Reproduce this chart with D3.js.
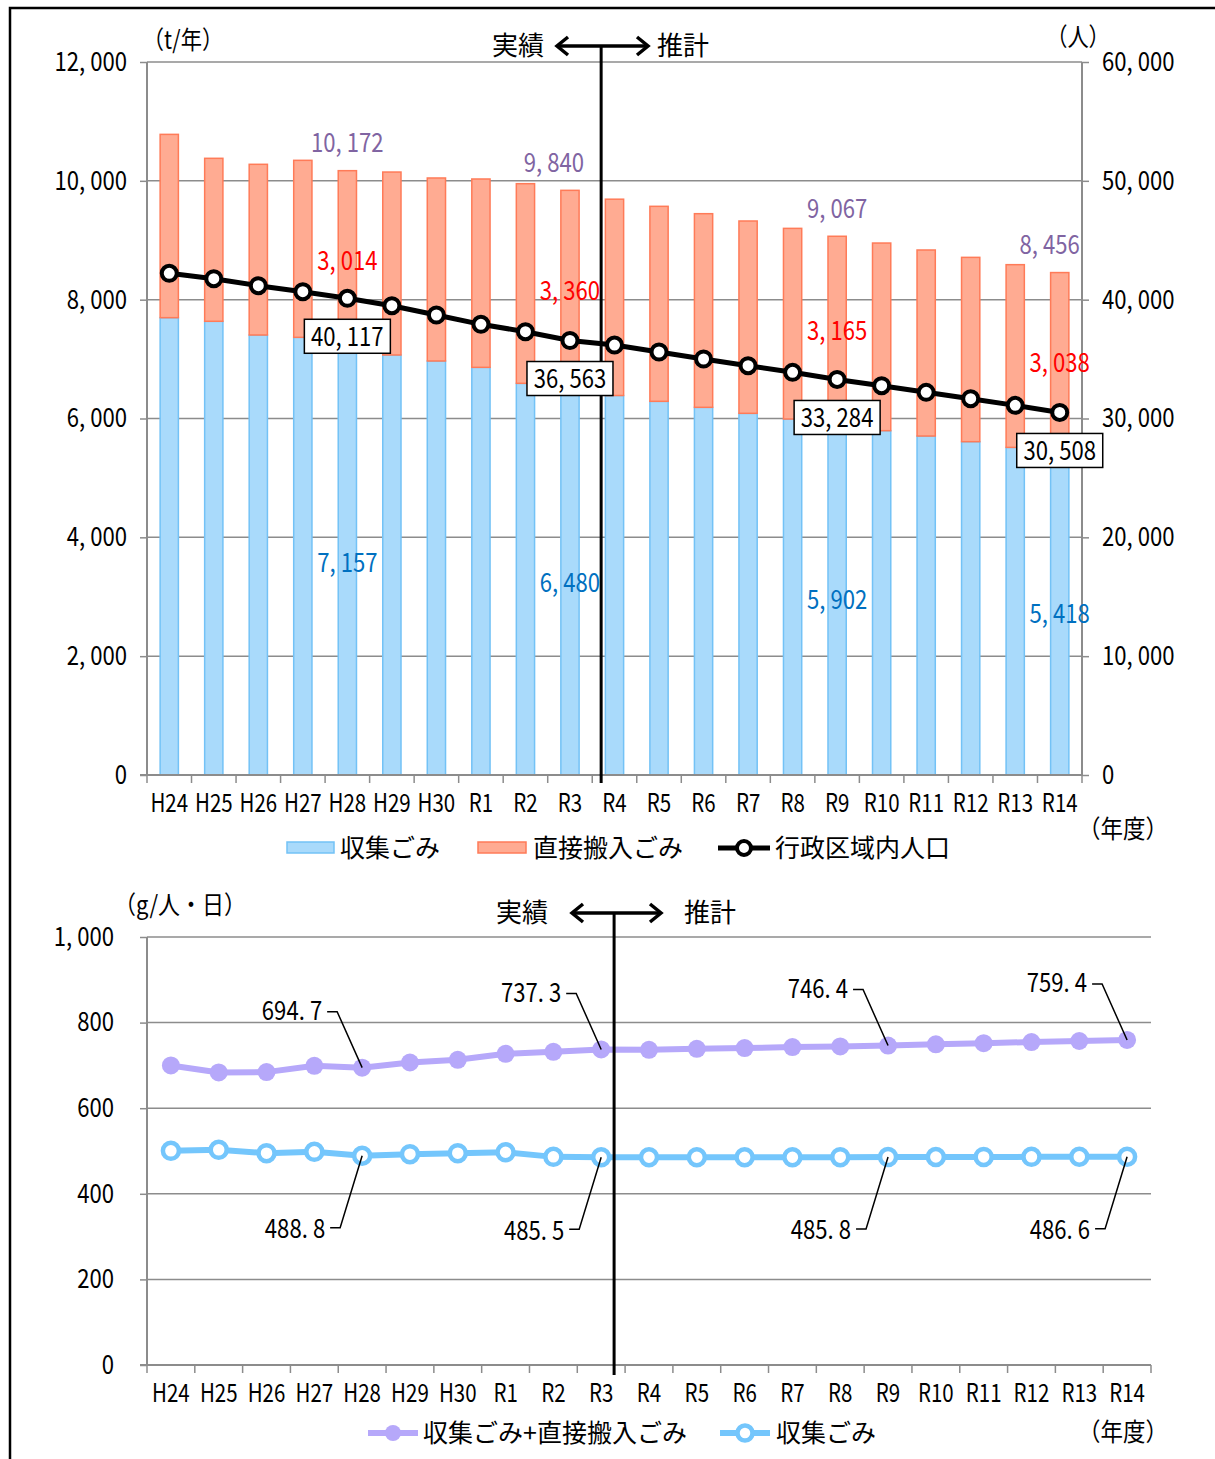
<!DOCTYPE html>
<html>
<head>
<meta charset="utf-8">
<script src="https://cdn.jsdelivr.net/npm/d3@7"></script>
<style>
  body { margin: 0; background: #fff; }
  text { font-family: "Noto Sans CJK JP", "Noto Sans", sans-serif; }
</style>
</head>
<body>
<div class="forSvg"></div>
<script>
// categories (fiscal years)
const years = ["H24","H25","H26","H27","H28","H29","H30","R1","R2","R3","R4",
               "R5","R6","R7","R8","R9","R10","R11","R12","R13","R14"];

// tonnage per year (t/年)
const collected = [7697, 7636, 7405, 7366, 7157, 7069, 6968, 6861, 6592, 6480, 6387,
                   6289, 6188, 6087, 5991, 5902, 5795, 5705, 5610, 5514, 5418];
const direct = [3085, 2743, 2873, 2979, 3014, 3079, 3080, 3170, 3360, 3360, 3304,
                3282, 3259, 3237, 3209, 3165, 3158, 3131, 3102, 3075, 3038];
const totalT = [10782, 10379, 10278, 10345, 10172, 10148, 10048, 10031, 9952, 9840, 9691,
                9571, 9447, 9324, 9200, 9067, 8953, 8836, 8712, 8589, 8456];

// population (人)
const population = [42217, 41767, 41178, 40673, 40117, 39494, 38710, 37925, 37306, 36563, 36180,
                    35597, 35007, 34445, 33884, 33284, 32762, 32201, 31667, 31106, 30508];

// per capita per day (g/人・日)
const perCapTotal = [699.8, 683.5, 684.3, 699.1, 694.7, 706.8, 713.1, 727.1, 731.8, 737.3, 736.5,
                     738.8, 740.4, 742.7, 744.3, 746.4, 749.3, 751.9, 754.6, 757.0, 759.4];
const perCapCollected = [500.3, 502.7, 494.9, 498.0, 488.8, 492.6, 494.9, 497.2, 486.3, 485.5, 485.4,
                         485.3, 485.4, 485.5, 485.6, 485.8, 486.0, 486.2, 486.3, 486.5, 486.6];

// years that get value labels
const labeledYears = ["H28", "R3", "R9", "R14"];

// tick values
const leftTicksTop = [0, 2000, 4000, 6000, 8000, 10000, 12000];
const rightTicksTop = [0, 10000, 20000, 30000, 40000, 50000, 60000];
const ticksBottom = [0, 200, 400, 600, 800, 1000];

const svg_w = 1215;
const svg_h = 1459;
const SX = 0.85;   // narrow the latin glyphs a bit
const fmt = d3.format(",");
const fmt1 = d3.format(".1f");
const gridCol = "#8c8c8c";

const svg = d3.select(".forSvg").append("svg")
    .attr("width", svg_w).attr("height", svg_h);

svg.append("rect").attr("width", svg_w).attr("height", svg_h).attr("fill", "#fff");
// outer frame
svg.append("rect").attr("x", 10).attr("y", 8).attr("width", 1300).attr("height", 1600)
    .attr("fill", "none").attr("stroke", "#000").attr("stroke-width", 2.5);

// put a little gap after "," and "." like the japanese font does
function spaced(sel, s) {
    sel.text(null);
    s.split(/(?<=[,.])/).forEach((p, k) => {
        sel.append("tspan").attr("dx", k ? 6 : null).text(p);
    });
    return sel;
}

// text helper
function txt(x, y, s, o = {}) {
    const sx = o.sx == null ? SX : o.sx;
    const t = svg.append("text")
        .attr("transform", `translate(${x},${y}) scale(${sx},1)`)
        .attr("text-anchor", o.anchor || "middle")
        .attr("dy", "0.36em")
        .attr("font-size", o.size || 24)
        .attr("fill", o.fill || "#000");
    if (o.num) spaced(t, s); else t.text(s);
    return t;
}

function styleAxis(g, dx) {
    g.select(".domain").remove();
    g.selectAll("line").attr("stroke", gridCol).attr("stroke-width", 1.5);
    g.selectAll("text")
        .attr("x", null)
        .attr("transform", `translate(${dx},0) scale(${SX},1)`)
        .attr("font-size", 26)
        .attr("fill", "#000")
        .style("font-family", '"Noto Sans CJK JP", sans-serif')
        .each(function () { spaced(d3.select(this), this.textContent); });
}

function arrowMarker(x0, x1, y, xv, yBottom) {
    const g = svg.append("g").attr("stroke", "#000").attr("fill", "none")
        .attr("stroke-width", 3.5);
    g.append("line").attr("x1", x0 + 2).attr("x2", x1 - 2).attr("y1", y).attr("y2", y);
    g.append("polyline").attr("points", `${x0 + 13},${y - 9} ${x0 + 2},${y} ${x0 + 13},${y + 9}`);
    g.append("polyline").attr("points", `${x1 - 13},${y - 9} ${x1 - 2},${y} ${x1 - 13},${y + 9}`);
    g.append("line").attr("x1", xv).attr("x2", xv).attr("y1", y).attr("y2", yBottom)
        .attr("stroke-width", 3);
}

// ================= TOP CHART =================
const T = { left: 147, right: 1082, top: 62, bottom: 775 };

const xBand = d3.scaleBand().domain(years).range([T.left, T.right]);
const xC = d => xBand(d) + xBand.bandwidth() / 2;
const barW = xBand.bandwidth() * 0.41;

const yT = d3.scaleLinear().domain([0, 12000]).range([T.bottom, T.top]);
const yP = d3.scaleLinear().domain([0, 60000]).range([T.bottom, T.top]);

// gridlines
svg.append("g").selectAll("line").data(leftTicksTop).join("line")
    .attr("x1", T.left).attr("x2", T.right)
    .attr("y1", d => yT(d)).attr("y2", d => yT(d))
    .attr("stroke", gridCol).attr("stroke-width", 1.5);

// axes
svg.append("g").attr("transform", `translate(${T.left},0)`)
    .call(d3.axisLeft(yT).tickValues(leftTicksTop).tickSize(7).tickFormat(fmt))
    .call(g => styleAxis(g, -20));
svg.append("g").attr("transform", `translate(${T.right},0)`)
    .call(d3.axisRight(yP).tickValues(rightTicksTop).tickSize(7).tickFormat(fmt))
    .call(g => styleAxis(g, 20));
svg.append("line").attr("x1", T.left).attr("x2", T.left).attr("y1", T.top).attr("y2", T.bottom)
    .attr("stroke", gridCol).attr("stroke-width", 2);
svg.append("line").attr("x1", T.right).attr("x2", T.right).attr("y1", T.top).attr("y2", T.bottom)
    .attr("stroke", gridCol).attr("stroke-width", 2);

// stacked bars
const stackData = years.map((y, i) => ({ year: y, collected: collected[i], direct: direct[i] }));
const series = d3.stack().keys(["collected", "direct"])(stackData);
const barFill = { collected: "#a9dafb", direct: "#ffab92" };
const barStroke = { collected: "#73c2f6", direct: "#ff7b58" };

svg.append("g").selectAll("g").data(series).join("g")
    .attr("fill", s => barFill[s.key]).attr("stroke", s => barStroke[s.key])
    .attr("stroke-width", 1.5)
    .selectAll("rect").data(s => s).join("rect")
    .attr("x", d => xC(d.data.year) - barW / 2)
    .attr("width", barW)
    .attr("y", d => yT(d[1]))
    .attr("height", d => yT(d[0]) - yT(d[1]));

// x axis line & boundary ticks
svg.append("line").attr("x1", T.left - 7).attr("x2", T.right).attr("y1", T.bottom).attr("y2", T.bottom)
    .attr("stroke", gridCol).attr("stroke-width", 2);
svg.append("g").selectAll("line").data(years.concat(["end"])).join("line")
    .attr("x1", d => d === "end" ? T.right : xBand(d))
    .attr("x2", d => d === "end" ? T.right : xBand(d))
    .attr("y1", T.bottom).attr("y2", T.bottom + 8)
    .attr("stroke", gridCol).attr("stroke-width", 1.5);
years.forEach(y => txt(xC(y), 803, y, { size: 25, sx: 0.82 }));

// population line
const popLine = d3.line().x((d, i) => xC(years[i])).y(d => yP(d));
svg.append("path").datum(population).attr("d", popLine)
    .attr("fill", "none").attr("stroke", "#000").attr("stroke-width", 5);
svg.append("g").selectAll("circle").data(population).join("circle")
    .attr("cx", (d, i) => xC(years[i])).attr("cy", d => yP(d)).attr("r", 7.5)
    .attr("fill", "#fff").attr("stroke", "#000").attr("stroke-width", 4);

// vertical separator with arrow
arrowMarker(555, 650, 46, xBand("R4") + xBand.step() * 0.2, T.bottom + 8);
txt(518, 46, "実績", { size: 26, sx: 1 });
txt(683, 46, "推計", { size: 26, sx: 1 });

// value labels
labeledYears.forEach(yr => {
    const i = years.indexOf(yr);
    const x = xC(yr);
    const nudge = yr === "R3" ? -16 : yr === "R14" ? -10 : 0;
    txt(x + nudge, yT(totalT[i]) - 28, fmt(totalT[i]), { size: 26, fill: "#8064a2", num: true });
    txt(x, yT(collected[i] + direct[i] / 2), fmt(direct[i]), { size: 26, fill: "#ff0000", num: true });
    txt(x, yT(collected[i] / 2), fmt(collected[i]), { size: 26, fill: "#0070c0", num: true });
    const by = yP(population[i]) + 38;
    svg.append("rect").attr("x", x - 43).attr("y", by - 17).attr("width", 86).attr("height", 34)
        .attr("fill", "#fff").attr("stroke", "#000").attr("stroke-width", 1.5);
    txt(x, by, fmt(population[i]), { size: 26, num: true });
});

// unit labels
txt(183, 40, "（t/年）", { size: 25, sx: 0.85 });
txt(1078, 37, "（人）", { size: 25, sx: 0.85 });
txt(1123, 829, "（年度）", { size: 25, sx: 0.9 });

// legend top
svg.append("rect").attr("x", 287).attr("y", 842).attr("width", 47).attr("height", 11)
    .attr("fill", barFill.collected).attr("stroke", barStroke.collected).attr("stroke-width", 1.5);
txt(340, 848, "収集ごみ", { size: 25, sx: 1, anchor: "start" });
svg.append("rect").attr("x", 478).attr("y", 842).attr("width", 48).attr("height", 11)
    .attr("fill", barFill.direct).attr("stroke", barStroke.direct).attr("stroke-width", 1.5);
txt(533, 848, "直接搬入ごみ", { size: 25, sx: 1, anchor: "start" });
svg.append("line").attr("x1", 718).attr("x2", 770).attr("y1", 848).attr("y2", 848)
    .attr("stroke", "#000").attr("stroke-width", 5);
svg.append("circle").attr("cx", 744).attr("cy", 848).attr("r", 7)
    .attr("fill", "#fff").attr("stroke", "#000").attr("stroke-width", 4);
txt(775, 848, "行政区域内人口", { size: 25, sx: 1, anchor: "start" });

// ================= BOTTOM CHART =================
const B = { left: 147, right: 1151, top: 937, bottom: 1365 };
const xB = d3.scaleBand().domain(years).range([B.left, B.right]);
const xBC = d => xB(d) + xB.bandwidth() / 2;
const yB = d3.scaleLinear().domain([0, 1000]).range([B.bottom, B.top]);

svg.append("g").selectAll("line").data(ticksBottom).join("line")
    .attr("x1", B.left).attr("x2", B.right)
    .attr("y1", d => yB(d)).attr("y2", d => yB(d))
    .attr("stroke", gridCol).attr("stroke-width", 1.5);
svg.append("g").attr("transform", `translate(${B.left},0)`)
    .call(d3.axisLeft(yB).tickValues(ticksBottom).tickSize(7).tickFormat(fmt))
    .call(g => styleAxis(g, -33));
svg.append("line").attr("x1", B.left).attr("x2", B.left).attr("y1", B.top).attr("y2", B.bottom)
    .attr("stroke", gridCol).attr("stroke-width", 2);
svg.append("line").attr("x1", B.left - 7).attr("x2", B.right).attr("y1", B.bottom).attr("y2", B.bottom)
    .attr("stroke", gridCol).attr("stroke-width", 2);
svg.append("g").selectAll("line").data(years.concat(["end"])).join("line")
    .attr("x1", d => d === "end" ? B.right : xB(d))
    .attr("x2", d => d === "end" ? B.right : xB(d))
    .attr("y1", B.bottom).attr("y2", B.bottom + 8)
    .attr("stroke", gridCol).attr("stroke-width", 1.5);
years.forEach(y => txt(xBC(y), 1393, y, { size: 25, sx: 0.82 }));

const purple = "#b6a8fa";
const cyan = "#74c6fc";
const lineB = d3.line().x((d, i) => xBC(years[i])).y(d => yB(d));

svg.append("path").datum(perCapTotal).attr("d", lineB)
    .attr("fill", "none").attr("stroke", purple).attr("stroke-width", 6);
svg.append("g").selectAll("circle").data(perCapTotal).join("circle")
    .attr("cx", (d, i) => xBC(years[i])).attr("cy", d => yB(d)).attr("r", 9)
    .attr("fill", purple);

svg.append("path").datum(perCapCollected).attr("d", lineB)
    .attr("fill", "none").attr("stroke", cyan).attr("stroke-width", 6);
svg.append("g").selectAll("circle").data(perCapCollected).join("circle")
    .attr("cx", (d, i) => xBC(years[i])).attr("cy", d => yB(d)).attr("r", 8)
    .attr("fill", "#fff").attr("stroke", cyan).attr("stroke-width", 4.5);

// leader labels
labeledYears.forEach(yr => {
    const i = years.indexOf(yr);
    const px = xBC(yr);
    let py = yB(perCapTotal[i]);
    svg.append("polyline")
        .attr("points", `${px},${py} ${px - 25},${py - 56} ${px - 35},${py - 56}`)
        .attr("fill", "none").attr("stroke", "#000").attr("stroke-width", 1.5);
    txt(px - 40, py - 57, fmt1(perCapTotal[i]), { size: 26, anchor: "end", num: true });
    py = yB(perCapCollected[i]);
    svg.append("polyline")
        .attr("points", `${px},${py} ${px - 22},${py + 72} ${px - 32},${py + 72}`)
        .attr("fill", "none").attr("stroke", "#000").attr("stroke-width", 1.5);
    txt(px - 37, py + 73, fmt1(perCapCollected[i]), { size: 26, anchor: "end", num: true });
});

arrowMarker(570, 663, 913, xB("R3") + xB.step() * 0.77, B.bottom + 10);
txt(522, 913, "実績", { size: 26, sx: 1 });
txt(710, 913, "推計", { size: 26, sx: 1 });

txt(180, 905, "（g/人・日）", { size: 25, sx: 0.88 });
txt(1123, 1432, "（年度）", { size: 25, sx: 0.9 });

// legend bottom
svg.append("line").attr("x1", 368).attr("x2", 418).attr("y1", 1433).attr("y2", 1433)
    .attr("stroke", purple).attr("stroke-width", 6);
svg.append("circle").attr("cx", 393).attr("cy", 1433).attr("r", 8).attr("fill", purple);
txt(423, 1433, "収集ごみ+直接搬入ごみ", { size: 25, sx: 1, anchor: "start" });
svg.append("line").attr("x1", 720).attr("x2", 770).attr("y1", 1433).attr("y2", 1433)
    .attr("stroke", cyan).attr("stroke-width", 6);
svg.append("circle").attr("cx", 745).attr("cy", 1433).attr("r", 7.5)
    .attr("fill", "#fff").attr("stroke", cyan).attr("stroke-width", 4.5);
txt(776, 1433, "収集ごみ", { size: 25, sx: 1, anchor: "start" });
</script>
</body>
</html>
